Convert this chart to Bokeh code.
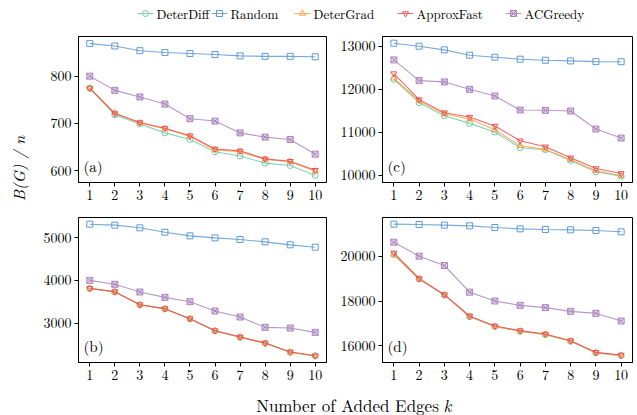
from bokeh.plotting import figure
from bokeh.layouts import row, column
from bokeh.models import Range1d, FixedTicker, Label
from bokeh.core.properties import value
from bokeh.embed import file_html
from bokeh.resources import INLINE

# ---------------- data ----------------
k = [1, 2, 3, 4, 5, 6, 7, 8, 9, 10]
series_names = ["DeterDiff", "Random", "DeterGrad", "ApproxFast", "ACGreedy"]

a_deterdiff = [775, 718, 699, 680, 666, 640, 631, 616, 611, 590]
a_random = [869, 864, 854, 850, 848, 846, 843, 842, 842, 841]
a_detergrad = [775, 722, 701, 689, 673, 644, 640, 624, 619, 599]
a_approxfast = [774, 721, 702, 690, 674, 646, 642, 625, 620, 601]
a_acgreedy = [800, 770, 756, 741, 710, 705, 680, 671, 666, 635]

b_deterdiff = [3808, 3731, 3428, 3333, 3100, 2820, 2672, 2532, 2322, 2236]
b_random = [5311, 5288, 5226, 5124, 5039, 4992, 4953, 4899, 4829, 4774]
b_detergrad = [3810, 3733, 3430, 3336, 3103, 2822, 2675, 2535, 2325, 2239]
b_approxfast = [3813, 3735, 3432, 3339, 3105, 2825, 2677, 2537, 2327, 2241]
b_acgreedy = [4000, 3907, 3728, 3603, 3502, 3284, 3144, 2903, 2887, 2786]

c_deterdiff = [12233, 11690, 11388, 11209, 11008, 10643, 10597, 10349, 10085, 9984]
c_random = [13070, 13000, 12915, 12791, 12744, 12698, 12674, 12659, 12643, 12640]
c_detergrad = [12256, 11729, 11426, 11310, 11062, 10690, 10605, 10364, 10109, 9992]
c_approxfast = [12364, 11760, 11457, 11357, 11147, 10806, 10667, 10411, 10163, 10047]
c_acgreedy = [12682, 12202, 12171, 12000, 11845, 11519, 11512, 11496, 11078, 10868]

d_deterdiff = [20074, 18975, 18265, 17300, 16860, 16650, 16500, 16205, 15685, 15565]
d_random = [21428, 21413, 21383, 21353, 21279, 21219, 21190, 21175, 21145, 21086]
d_detergrad = [20074, 18980, 18270, 17310, 16870, 16660, 16510, 16215, 15695, 15575]
d_approxfast = [20149, 19004, 18283, 17331, 16885, 16677, 16528, 16230, 15710, 15591]
d_acgreedy = [20625, 20000, 19584, 18394, 18000, 17807, 17703, 17539, 17450, 17108]

a_yticks = [600, 700, 800]
b_yticks = [3000, 4000, 5000]
c_yticks = [10000, 11000, 12000, 13000]
d_yticks = [16000, 18000, 20000]

# ---------------- style ----------------
FONT = "Latin Modern Roman"
colors = ["#72c9ab", "#5f9bd6", "#f5a346", "#ef4f4f", "#ad86bf"]
markers = ["circle", "square", "triangle", "inverted_triangle", "square_x"]


def panel(series, yr, yticks, label, width, height, bl, br, bt, bb):
    p = figure(width=width, height=height, output_backend="svg", toolbar_location=None,
               x_range=Range1d(0.55, 10.45), y_range=Range1d(*yr),
               min_border_left=bl, min_border_right=br, min_border_top=bt, min_border_bottom=bb)
    p.xgrid.visible = False
    p.ygrid.visible = False
    p.outline_line_color = "black"
    p.outline_line_width = 1
    p.outline_line_alpha = 1
    p.xaxis.ticker = FixedTicker(ticks=k)
    p.yaxis.ticker = FixedTicker(ticks=yticks)
    for ax in (p.xaxis[0], p.yaxis[0]):
        ax.axis_line_color = "black"
        ax.major_tick_line_color = "black"
        ax.major_tick_out = 4
        ax.major_tick_in = 0
        ax.minor_tick_line_color = None
        ax.major_label_text_font = FONT
        ax.major_label_text_font_size = "14px"
        ax.major_label_text_color = "black"
        ax.major_label_standoff = 3
    for ys, c, m in zip(series, colors, markers):
        p.line(k, ys, line_color=c, line_width=1.1, line_alpha=0.85)
        if m == "square_x":
            p.scatter(k, ys, marker=m, size=6, line_color=c, fill_color=c, fill_alpha=0.35, line_width=1)
        else:
            p.scatter(k, ys, marker=m, size=6, line_color=c, fill_color=None, line_width=1)
    p.add_layout(Label(x=5, y=7, x_units="screen", y_units="screen", text=label,
                       text_font=FONT, text_font_size="15px", text_color="black",
                       text_baseline="bottom"))
    return p


pa = panel([a_deterdiff, a_random, a_detergrad, a_approxfast, a_acgreedy], (575, 884), a_yticks,
           "(a)", 300, 178, 46, 6, 2, 30)
pb = panel([b_deterdiff, b_random, b_detergrad, b_approxfast, b_acgreedy], (2082, 5467), b_yticks,
           "(b)", 300, 180, 46, 6, 5, 30)
pc = panel([c_deterdiff, c_random, c_detergrad, c_approxfast, c_acgreedy], (9837, 13225), c_yticks,
           "(c)", 305, 178, 50, 5, 2, 30)
pd_ = panel([d_deterdiff, d_random, d_detergrad, d_approxfast, d_acgreedy], (15257, 21725), d_yticks,
            "(d)", 305, 180, 50, 5, 5, 30)


def blank(width, height, xr, yr):
    f = figure(width=width, height=height, output_backend="svg", toolbar_location=None,
               x_range=Range1d(*xr), y_range=Range1d(*yr),
               min_border=0, min_border_left=0, min_border_right=0,
               min_border_top=0, min_border_bottom=0)
    f.axis.visible = False
    f.grid.visible = False
    f.outline_line_color = None
    return f


# legend strip (page coordinates)
leg = blank(637, 34, (0, 637), (34, 0))
leg_x = [145, 219, 302, 405, 513]
for name, c, m, x0 in zip(series_names, colors, markers, leg_x):
    leg.line([x0 - 8, x0 + 8], [13, 13], line_color=c, line_width=1.1, line_alpha=0.85)
    if m == "square_x":
        leg.scatter([x0], [13], marker=m, size=6, line_color=c, fill_color=c, fill_alpha=0.35)
    else:
        leg.scatter([x0], [13], marker=m, size=6, line_color=c, fill_color=None)
    leg.text([x0 + 11], [13], text=[name], text_font=value(FONT), text_font_size="13px",
             text_baseline="middle", text_align="left", text_color="black")

# y label strip
ylab = blank(32, 358, (0, 32), (392, 34))
ylab.text([18], [168], text=["B(G) / n"], text_font=value(FONT), text_font_style="italic",
          text_font_size="16px", text_baseline="middle", text_align="center", angle=1.5708,
          text_color="black")

# x label strip
xlab = blank(637, 23, (0, 637), (415, 392))
xlab.text([347], [404], text=["Number of Added Edges"], text_font=value(FONT),
          text_font_size="17px", text_baseline="middle", text_align="center", text_color="black")
xlab.text([443], [404], text=["k"], text_font=value(FONT), text_font_style="italic",
          text_font_size="17px", text_baseline="middle", text_align="left", text_color="black")

layout = column(leg,
                row(ylab, column(pa, pb, spacing=0), column(pc, pd_, spacing=0), spacing=0),
                xlab, spacing=0)

open("out.html", "w").write(file_html(layout, INLINE))
